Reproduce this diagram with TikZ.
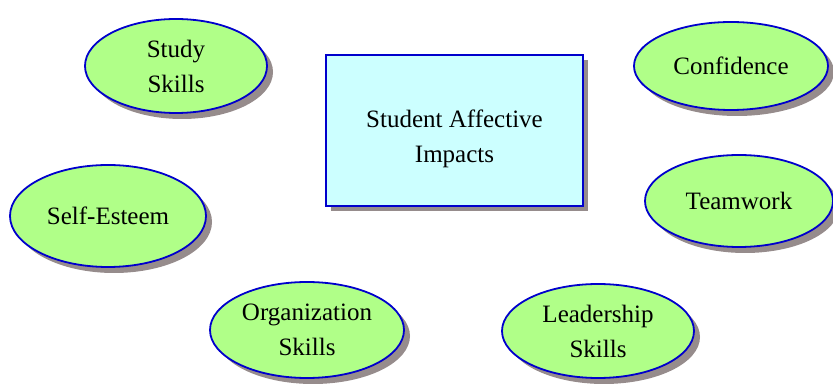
\documentclass[tikz,border=0pt]{standalone}
\usepackage{fontspec}
\setmainfont{Liberation Serif}
\usetikzlibrary{shapes.geometric,shadows}
\definecolor{bubble}{RGB}{176,255,136}
\definecolor{edgeblue}{RGB}{0,0,204}
\definecolor{boxfill}{RGB}{204,255,255}
\definecolor{shade}{RGB}{150,140,140}
\tikzset{
  txt/.style={align=center, font=\fontsize{25}{35}\selectfont},
  bub/.style={ellipse, draw=edgeblue, line width=1.8pt, fill=bubble, inner sep=0pt, txt,
    drop shadow={shadow xshift=6pt, shadow yshift=-6pt, fill=shade, opacity=1}},
  hub/.style={rectangle, draw=edgeblue, line width=1.8pt, fill=boxfill, inner sep=0pt, txt,
    drop shadow={shadow xshift=5pt, shadow yshift=-5pt, fill=shade, opacity=1}}
}
\begin{document}
\begin{tikzpicture}[x=1pt,y=1pt]
\useasboundingbox (0,0) rectangle (833,385);
\node[hub, minimum width=257pt, minimum height=151pt] (hubnode) at (454.5,254.5)
  {\raisebox{-14pt}[0pt][0pt]{\begin{tabular}{@{}c@{}}Student Affective\\Impacts\end{tabular}}};
\node[bub, minimum width=182pt, minimum height=94pt] (study) at (176,319) {Study\\Skills};
\node[bub, minimum width=194pt, minimum height=88pt] (conf) at (731,319) {Confidence};
\node[bub, minimum width=196pt, minimum height=102pt] (self) at (108,169) {Self-Esteem};
\node[bub, minimum width=188pt, minimum height=92pt] (team) at (739,184) {Teamwork};
\node[bub, minimum width=194pt, minimum height=96pt] (org) at (307,55) {Organization\\Skills};
\node[bub, minimum width=192pt, minimum height=94pt] (lead) at (598,54) {Leadership\\Skills};
\end{tikzpicture}
\end{document}
